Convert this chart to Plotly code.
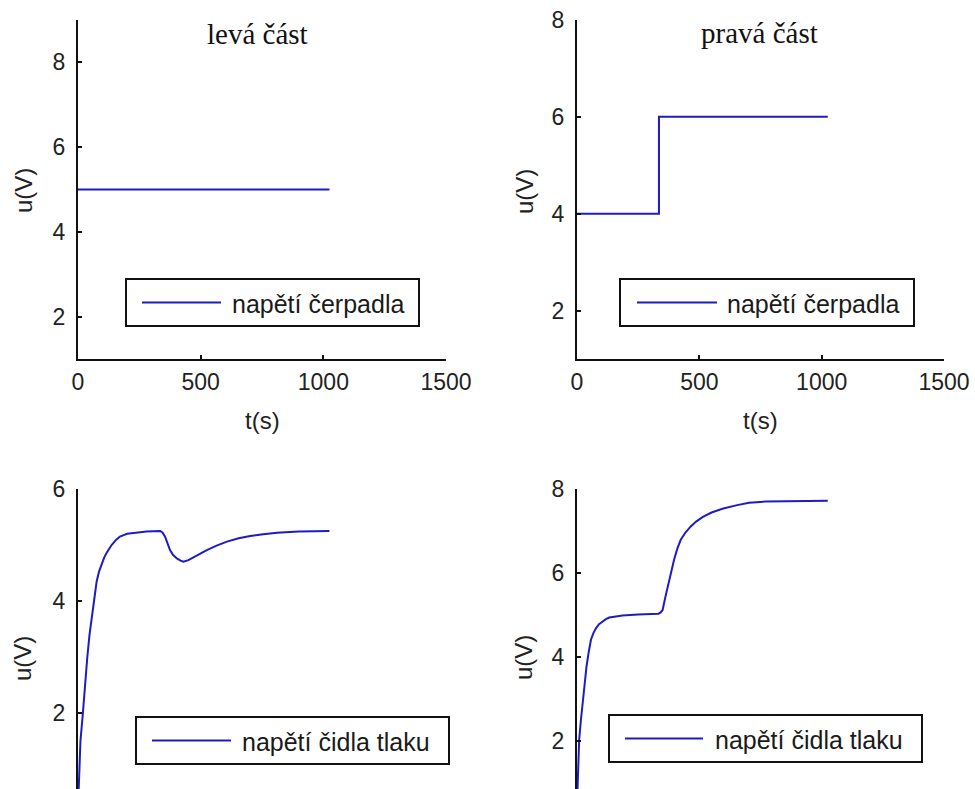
import plotly.graph_objects as go

W, H = 975, 789

# --- data -------------------------------------------------------------
# pump voltage, left part (constant)
t_pump_left = [0, 1025]
u_pump_left = [5, 5]

# pump voltage, right part (step at ~335 s)
t_pump_right = [0, 335, 335, 1025]
u_pump_right = [4, 4, 6, 6]

# pressure sensor voltage, left part
t_sens_left = [0, 5, 10, 19, 28, 38, 47, 56, 66, 76, 86, 97, 107, 117, 127, 137,
               155, 171, 200, 239, 280, 335, 345, 355, 365, 375, 388, 403, 418,
               430, 450, 470, 497, 525, 565, 607, 655, 702, 755, 811, 900, 1025]
u_sens_left = [0.3, 1.0, 1.5, 1.95, 2.5, 3.0, 3.4, 3.7, 4.05, 4.35, 4.53, 4.67,
               4.78, 4.86, 4.94, 5.0, 5.09, 5.15, 5.2, 5.22, 5.24, 5.25, 5.22, 5.15,
               5.04, 4.91, 4.82, 4.76, 4.72, 4.70, 4.73, 4.78, 4.85, 4.91, 4.99,
               5.06, 5.12, 5.16, 5.19, 5.22, 5.24, 5.25]

# pressure sensor voltage, right part
t_sens_right = [0, 5, 9, 16, 23, 31, 39, 48, 57, 67, 78, 90, 105, 118, 132, 160,
                186, 250, 333, 342, 350, 362, 377, 387, 397, 410, 424, 444, 465,
                488, 513, 550, 594, 650, 703, 770, 839, 1025]
u_sens_right = [0.5, 1.5, 2.04, 2.5, 2.9, 3.38, 3.78, 4.12, 4.41, 4.57, 4.69, 4.78,
                4.85, 4.9, 4.94, 4.97, 4.99, 5.01, 5.03, 5.06, 5.12, 5.45, 5.84,
                6.08, 6.32, 6.58, 6.79, 6.97, 7.11, 7.23, 7.33, 7.44, 7.53, 7.61,
                7.67, 7.70, 7.71, 7.72]

x_ticks = [0, 500, 1000, 1500]
y_ticks = [2, 4, 6, 8]

titles = ["levá část", "pravá část"]
legend_pump = "napětí čerpadla"
legend_sens = "napětí čidla tlaku"
x_label = "t(s)"
y_label = "u(V)"

LINE_COLOR = "#1c1cc4"
TICK_FONT = dict(family="Liberation Sans, Arial", size=23, color="#222222")
LABEL_FONT = dict(family="Liberation Sans, Arial", size=24, color="#222222")
LEGEND_FONT = dict(family="Liberation Sans, Arial", size=25, color="#1a1a1a")
TITLE_FONT = dict(family="Liberation Serif, Times New Roman", size=29, color="#111111")


def px(x):
    return x / W


def py(y):
    return 1 - y / H


fig = go.Figure()

traces = [
    (t_pump_left, u_pump_left, "x", "y"),
    (t_pump_right, u_pump_right, "x2", "y2"),
    (t_sens_left, u_sens_left, "x3", "y3"),
    (t_sens_right, u_sens_right, "x4", "y4"),
]
for t, u, xa, ya in traces:
    fig.add_trace(go.Scatter(x=t, y=u, mode="lines", xaxis=xa, yaxis=ya,
                             line=dict(color=LINE_COLOR, width=2),
                             showlegend=False, hoverinfo="skip"))

left_dom = [px(78), px(446)]
right_dom = [px(577), px(944)]
top_dom = [py(359), py(20)]
bot_dom = [0, py(489)]

axis_common = dict(showgrid=False, zeroline=False, showline=True,
                   linecolor="#111111", linewidth=2, ticks="inside",
                   ticklen=4, tickwidth=1.5, tickcolor="#111111",
                   tickfont=TICK_FONT, automargin=False, fixedrange=True)

xaxis_top = dict(axis_common, range=[0, 1500], tickvals=x_ticks,
                 ticklabelstandoff=1)
yaxis_common = dict(axis_common, tickvals=y_ticks, ticklabelstandoff=6)
xaxis_hidden = dict(range=[0, 1500], visible=False, fixedrange=True)

fig.update_layout(
    width=W, height=H,
    margin=dict(l=0, r=0, t=0, b=0),
    paper_bgcolor="white", plot_bgcolor="white",
    showlegend=False,
    xaxis=dict(xaxis_top, domain=left_dom, anchor="y"),
    yaxis=dict(yaxis_common, domain=top_dom, range=[1, 9], anchor="x"),
    xaxis2=dict(xaxis_top, domain=right_dom, anchor="y2"),
    yaxis2=dict(yaxis_common, domain=top_dom, range=[1, 8], anchor="x2"),
    xaxis3=dict(xaxis_hidden, domain=left_dom, anchor="y3"),
    yaxis3=dict(yaxis_common, domain=bot_dom, range=[0.643, 6], anchor="x3"),
    xaxis4=dict(xaxis_hidden, domain=right_dom, anchor="y4"),
    yaxis4=dict(yaxis_common, domain=bot_dom, range=[0.857, 8], anchor="x4"),
)

annotations = []
shapes = []

# panel titles
for text, cx, cy in [(titles[0], 257, 34), (titles[1], 759, 33)]:
    annotations.append(dict(text=text, x=px(cx), y=py(cy), xref="paper", yref="paper",
                            xanchor="center", yanchor="middle", showarrow=False,
                            font=TITLE_FONT))

# x-axis labels (top row)
for cx in (262, 760):
    annotations.append(dict(text=x_label, x=px(cx), y=py(420), xref="paper", yref="paper",
                            xanchor="center", yanchor="middle", showarrow=False,
                            font=LABEL_FONT))

# y-axis labels
for cx, cy in [(23, 191), (525, 192), (22, 659), (523, 658)]:
    annotations.append(dict(text=y_label, x=px(cx), y=py(cy), xref="paper", yref="paper",
                            xanchor="center", yanchor="middle", showarrow=False,
                            textangle=-90, font=LABEL_FONT))

# legend boxes: (x0, x1, y0, y1, line start, line end, text x, label)
legend_boxes = [
    (126, 419, 279, 326, 142, 221, 230, legend_pump),
    (620, 914, 279, 326, 637, 717, 725, legend_pump),
    (136, 449, 717, 764, 152, 231, 240, legend_sens),
    (609, 922, 715, 762, 625, 703, 713, legend_sens),
]
for x0, x1, y0, y1, l0, l1, tx, label in legend_boxes:
    shapes.append(dict(type="rect", xref="paper", yref="paper",
                       x0=px(x0), x1=px(x1), y0=py(y1), y1=py(y0),
                       line=dict(color="#111111", width=2), fillcolor="white",
                       layer="above"))
    ym = (y0 + y1) / 2
    shapes.append(dict(type="line", xref="paper", yref="paper",
                       x0=px(l0), x1=px(l1), y0=py(ym), y1=py(ym),
                       line=dict(color=LINE_COLOR, width=2), layer="above"))
    annotations.append(dict(text=label, x=px(tx), y=py(ym + 1), xref="paper", yref="paper",
                            xanchor="left", yanchor="middle", showarrow=False,
                            font=LEGEND_FONT))

fig.update_layout(annotations=annotations, shapes=shapes)

fig.write_html("out.html")
